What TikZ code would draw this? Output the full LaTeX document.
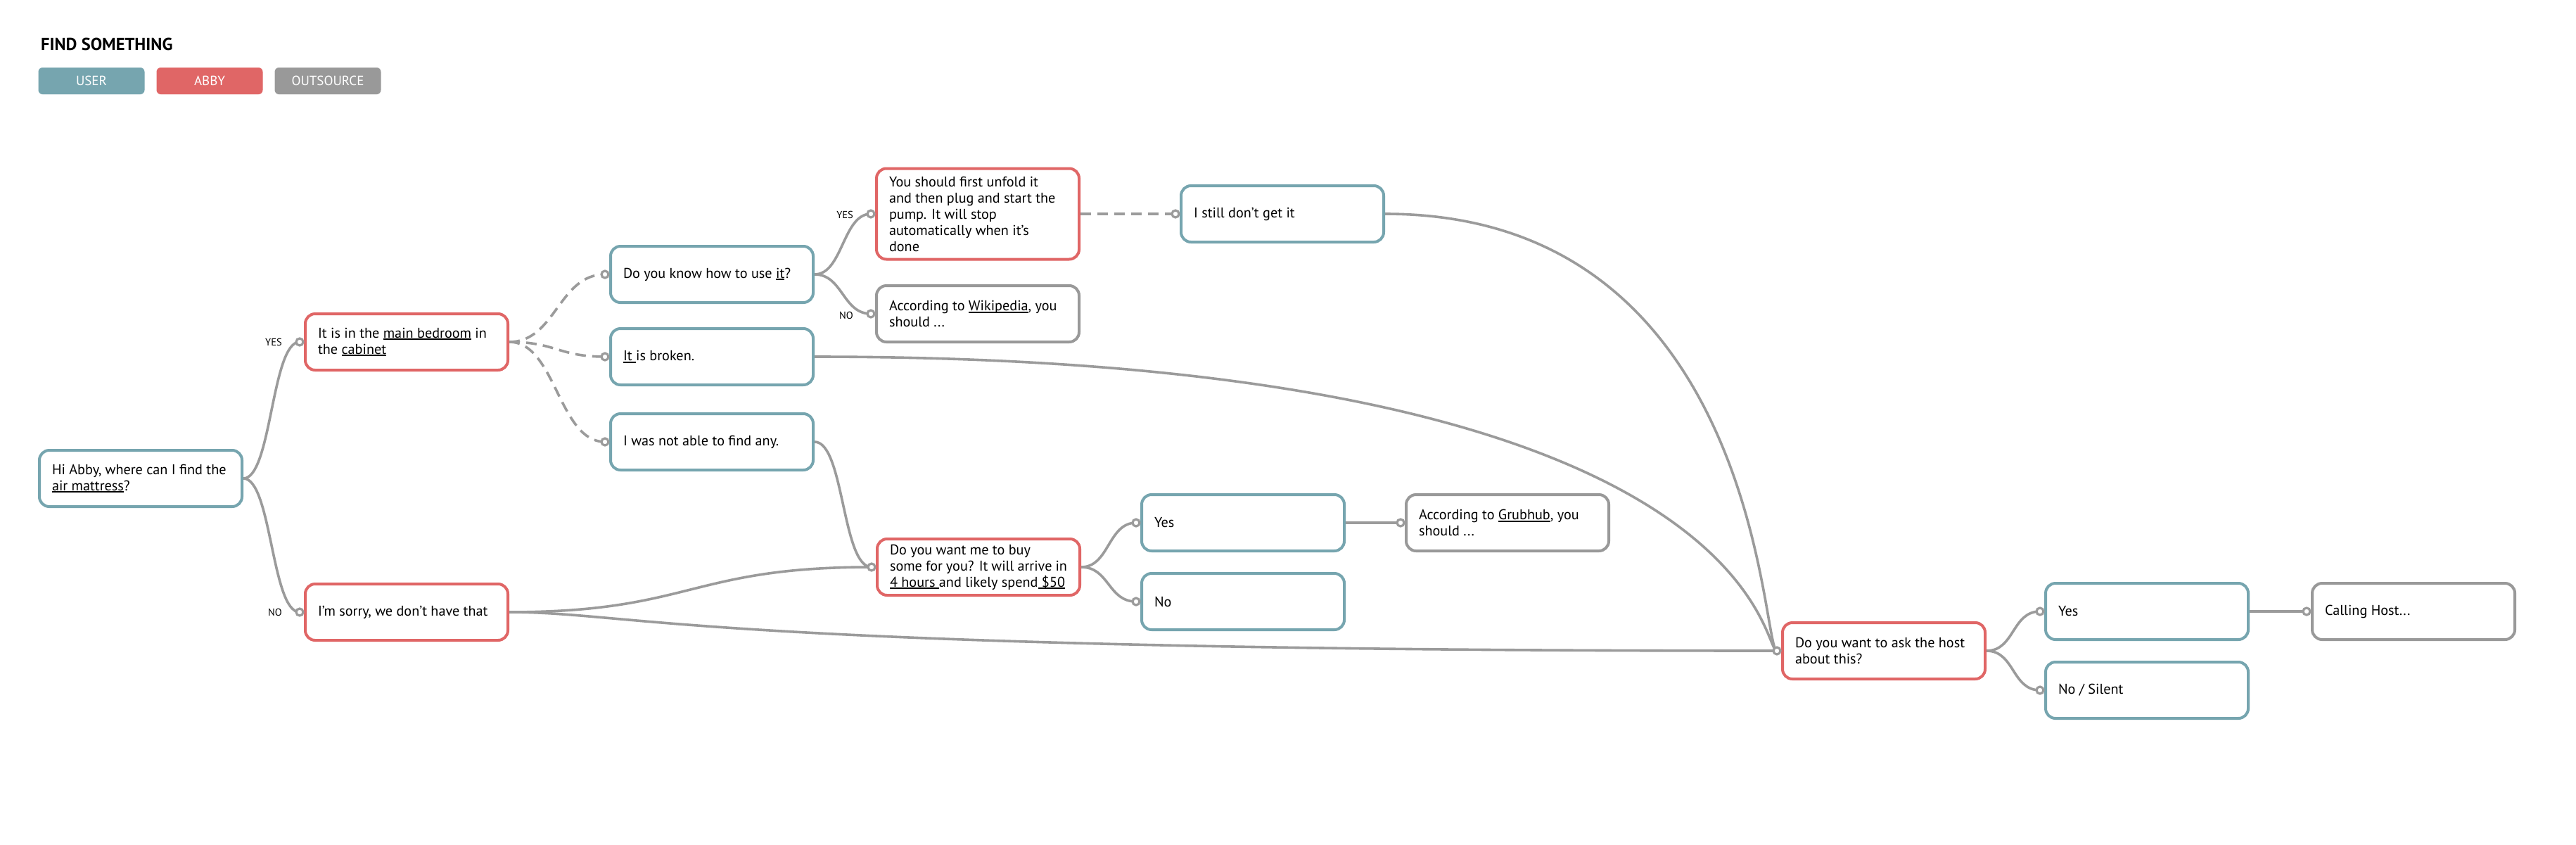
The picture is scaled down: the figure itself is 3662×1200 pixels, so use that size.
\documentclass[tikz,border=0pt]{standalone}
\usepackage{fontspec}
\setmainfont{PT Sans}
\usetikzlibrary{calc}
\definecolor{usercol}{HTML}{76A5AF}
\definecolor{abbycol}{HTML}{E06666}
\definecolor{outcol}{HTML}{999999}
\definecolor{linecol}{HTML}{9B9B9B}
\newcommand{\ulx}[1]{\setbox0\hbox{#1}\leavevmode\rlap{\vrule width\wd0 height -1pt depth 3pt}\box0\relax}
\pgfdeclarelayer{bg}
\pgfsetlayers{bg,main}
\begin{document}
\begin{tikzpicture}[x=1pt,y=-1pt,
 nbox/.style={draw, line width=4pt, rounded corners=14pt, fill=white, minimum width=288pt, minimum height=80pt, text width=252pt, inner xsep=18pt, inner ysep=4pt, align=flush left, font=\fontsize{20.2}{23}\selectfont, text=black},
 user/.style={nbox, draw=usercol},
 abby/.style={nbox, draw=abbycol},
 outs/.style={nbox, draw=outcol},
 conn/.style={draw=linecol, line width=3.6pt},
 dconn/.style={conn, dash pattern=on 15pt off 9pt},
 ringdot/.style={draw=linecol, line width=3.2pt, fill=white},
 lbl/.style={font=\fontsize{14.5}{16}\selectfont, anchor=east, inner sep=0pt},
 legbox/.style={fill=#1, rounded corners=6pt, minimum width=151pt, minimum height=38pt, text=white, font=\fontsize{19}{22}\selectfont, inner sep=0pt}
]
\begin{pgfonlayer}{bg}
\fill[white] (0,0) rectangle (3662,1200);
\end{pgfonlayer}
\useasboundingbox (0,0) rectangle (3662,1200);

% title and legend
\node[anchor=west, inner sep=0pt, font=\bfseries\fontsize{24.5}{28}\selectfont] (title) at (58,63) {FIND SOMETHING};
\node[legbox=usercol] (leguser) at (130,115) {USER};
\node[legbox=abbycol] (legabby) at (298,115) {ABBY};
\node[legbox=outcol] (legout) at (466,115) {OUTSOURCE};

% nodes
\node[user] (n1) at (200,680) {Hi Abby, where can I find the\\\ulx{air mattress}?};
\node[abby] (n2) at (578,486) {It is in the \ulx{main bedroom} in\\the \ulx{cabinet}};
\node[abby] (n3) at (578,870) {I’m sorry, we don’t have that};
\node[user] (n4) at (1012,390) {Do you know how to use \ulx{it}?};
\node[user] (n5) at (1012,507) {\ulx{It }is broken.};
\node[user] (n6) at (1012,628) {I was not able to find any.};
\node[abby, minimum height=129pt] (n7) at (1390,304) {You should first unfold it\\and then plug and start the\\pump. It will stop\\automatically when it’s\\done};
\node[outs] (n8) at (1390,446) {According to \ulx{Wikipedia}, you\\should ...};
\node[user] (n9) at (1823,304) {I still don’t get it};
\node[abby] (n10) at (1391,806) {Do you want me to buy\\some for you? It will arrive in\\\ulx{4 hours }and likely spend\ulx{ \$50}};
\node[user] (n11) at (1767,743) {Yes};
\node[user] (n12) at (1767,855) {No};
\node[outs] (n13) at (2143,743) {According to \ulx{Grubhub}, you\\should ...};
\node[abby] (n14) at (2678,925) {Do you want to ask the host\\about this?};
\node[user] (n15) at (3052,869) {Yes};
\node[user] (n16) at (3052,981) {No / Silent};
\node[outs] (n17) at (3431,869) {Calling Host...};

% labels
\node[lbl] (l1) at ([xshift=-31pt]n2.west) {YES};
\node[lbl] (l2) at ([xshift=-31pt]n3.west) {NO};
\node[lbl] (l3) at ([xshift=-31pt,yshift=-1pt]n7.west) {YES};
\node[lbl] (l4) at ([xshift=-31pt,yshift=-2pt]n8.west) {NO};

% connectors
\begin{pgfonlayer}{bg}
\draw[conn] (n1.east) .. controls +(40,0) and +(-40,0) .. ([xshift=-6pt]n2.west);
\draw[conn] (n1.east) .. controls +(40,0) and +(-40,0) .. ([xshift=-6pt]n3.west);
\draw[dconn] (n2.east) .. controls +(66,0) and +(-66,0) .. ([xshift=-6pt]n4.west);
\draw[dconn] (n2.east) .. controls +(66,0) and +(-66,0) .. ([xshift=-6pt]n5.west);
\draw[dconn] (n2.east) .. controls +(66,0) and +(-66,0) .. ([xshift=-6pt]n6.west);
\draw[conn] (n4.east) .. controls +(40,0) and +(-40,0) .. ([xshift=-6pt]n7.west);
\draw[conn] (n4.east) .. controls +(40,0) and +(-40,0) .. ([xshift=-6pt]n8.west);
\draw[dconn] (n7.east) -- ([xshift=-6pt]n9.west);
\draw[conn] (n9.east) .. controls +(535,0) and +(-22,0) .. ([xshift=-6pt]n14.west);
\draw[conn] (n5.east) .. controls +(1346,0) and +(-22,0) .. ([xshift=-6pt]n14.west);
\draw[conn] (n6.east) .. controls +(42,0) and +(-42,0) .. ([xshift=-6pt]n10.west);
\draw[conn] (n3.east) .. controls +(259,0) and +(-259,0) .. ([xshift=-6pt]n10.west);
\draw[conn] (n3.east) .. controls +(180,0) and +(-1528,0) .. ([xshift=-6pt]n14.west);
\draw[conn] (n10.east) .. controls +(40,0) and +(-40,0) .. ([xshift=-6pt]n11.west);
\draw[conn] (n10.east) .. controls +(40,0) and +(-40,0) .. ([xshift=-6pt]n12.west);
\draw[conn] (n11.east) -- ([xshift=-6pt]n13.west);
\draw[conn] (n14.east) .. controls +(40,0) and +(-40,0) .. ([xshift=-6pt]n15.west);
\draw[conn] (n14.east) .. controls +(40,0) and +(-40,0) .. ([xshift=-6pt]n16.west);
\draw[conn] (n15.east) -- ([xshift=-6pt]n17.west);
\end{pgfonlayer}

% end rings
\foreach \t in {n2,n3,n4,n5,n6,n7,n8,n9,n10,n11,n12,n13,n14,n15,n16,n17}
  \draw[ringdot] ([xshift=-6pt]\t.west) circle (5pt);
\end{tikzpicture}
\end{document}
